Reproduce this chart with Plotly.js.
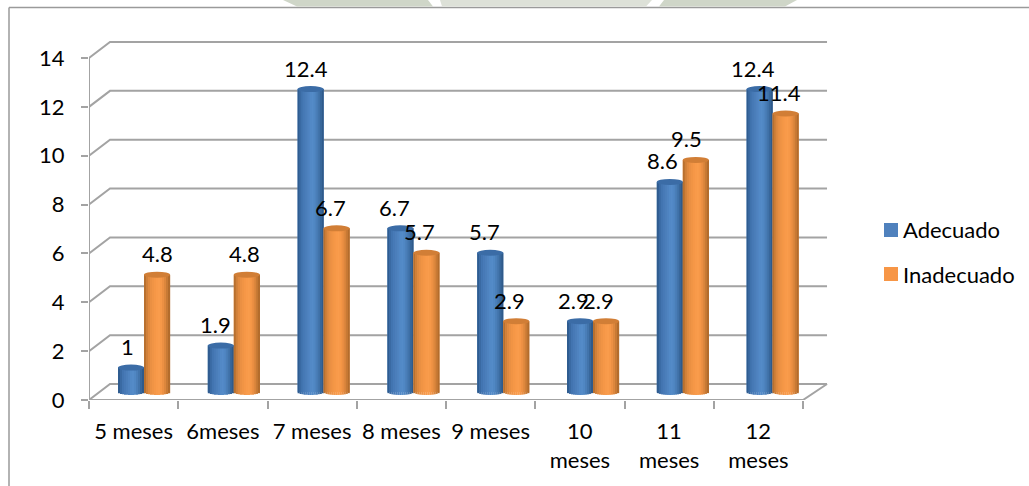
<!DOCTYPE html>
<html>
<head>
<meta charset="utf-8">
<script src="https://cdn.plot.ly/plotly-3.0.1.min.js"></script>
<style>html,body{margin:0;padding:0;background:#fff;overflow:hidden}</style>
</head>
<body>
<div id="chart" style="width:1029px;height:486px"></div>
<script>
// Values per age group
const categories = ['5 meses', '6meses', '7 meses', '8 meses', '9 meses', '10<br>meses', '11<br>meses', '12<br>meses'];
const adecuado = [1, 1.9, 12.4, 6.7, 5.7, 2.9, 8.6, 12.4];
const inadecuado = [4.8, 4.8, 6.7, 5.7, 2.9, 2.9, 9.5, 11.4];
const yTicks = [0, 2, 4, 6, 8, 10, 12, 14];

// Sideways nudges of the value labels, in pixels
const adecuadoLabelShift = [-4, -5, -5, -6, -6, -7, -7, -7];
const inadecuadoLabelShift = [0, -2, -6, -7, -7, -8, -9, -7];

const W = 1029, H = 486;
const FONT = 'Lato, Carlito, sans-serif';
const LABEL_SIZE = 22;
const px = v => v / W;
const py = v => 1 - v / H;

// Pixel scales of the chart box
const catStep = 89.25, unitPx = 24.43;
const frontLeft = 89, frontBase = 400, plotRight = 830, plotTop = 30;
const depthX = 21 / catStep, depthY = 16 / unitPx;
const xRange = [-0.5, -0.5 + (plotRight - frontLeft) / catStep];
const yRange = [0, (frontBase - plotTop) / unitPx];

// Bars stand in the middle of the box depth, on their own axes
const barLeft = 99.1, barRight = 817.5, barBase = 392, barFloorRoom = 6;
const barStep = (barRight - barLeft) / 8;
const barWidth = 26 / barStep;
const capHeight = 3 / unitPx;

// Side-to-side shading of a cylinder: dark rim, bright band right of the middle
const blueRamp = ['#2f5c90', '#3a6aa3', '#4274b0', '#4779b6', '#4b7eba', '#4f83c0', '#5289c6', '#548bc8', '#5087c3', '#4a7eb8', '#4274ab', '#38679b', '#2f5a8a'];
const orangeRamp = ['#b8702f', '#d0803a', '#e08a3f', '#ea9043', '#f09445', '#f59747', '#f89a4a', '#f99c4c', '#f69848', '#ec9043', '#dd873d', '#c87a35', '#b36c2c'];

const traces = [];
const shapes = [];

// Wall, floor and left edge of the box, on the main axes
const wallX = [], wallY = [];
yTicks.forEach(v => {
  wallX.push(-0.5, -0.5 + depthX, 7.5 + depthX + 0.034, null);
  wallY.push(v, v + depthY, v + depthY, null);
});
wallX.push(-0.5, -0.5, null, -0.5, 7.5, 7.5 + depthX + 0.034);
wallY.push(0, 14, null, 0, 0, depthY);
traces.push({
  type: 'scatter', mode: 'lines', x: wallX, y: wallY, xaxis: 'x', yaxis: 'y',
  line: {color: '#a3a3a3', width: 2}, hoverinfo: 'skip', showlegend: false
});

// Category labels sit on a second axis so they fall between the ticks
traces.push({
  type: 'scatter', mode: 'markers', x: [0], y: [0], xaxis: 'x3', yaxis: 'y',
  marker: {opacity: 0, size: 1}, hoverinfo: 'skip', showlegend: false
});

function addSeries(name, values, center, ramp) {
  const xs = values.map((_, i) => i);
  traces.push({
    type: 'bar', name, x: xs, y: values, base: 0, xaxis: 'x2', yaxis: 'y2',
    width: barWidth, offset: center - barWidth / 2,
    marker: {color: ramp[6], line: {width: 0}}, showlegend: false
  });
  const n = ramp.length;
  const w = barWidth / n;
  ramp.forEach((color, k) => {
    const t = (k + 0.5) / n * 2 - 1;
    const drop = capHeight * Math.sqrt(1 - t * t);
    traces.push({
      type: 'bar', x: xs, y: values.map(v => v + drop), base: values.map(() => -drop),
      xaxis: 'x2', yaxis: 'y2', width: w + 0.002, offset: center - barWidth / 2 + k * w,
      marker: {color, line: {width: 0}}, hoverinfo: 'skip', showlegend: false
    });
  });
}
addSeries('Adecuado', adecuado, -barWidth / 2, blueRamp);
addSeries('Inadecuado', inadecuado, barWidth / 2, orangeRamp);

// Top caps of the cylinders
function addCaps(values, center, color) {
  values.forEach((v, i) => {
    shapes.push({
      type: 'circle', xref: 'x2', yref: 'y2', layer: 'above',
      x0: i + center - barWidth / 2, x1: i + center + barWidth / 2,
      y0: v - capHeight, y1: v + capHeight,
      fillcolor: color, line: {width: 0}
    });
  });
}
addCaps(adecuado, -barWidth / 2, '#3b6ca6');
addCaps(inadecuado, barWidth / 2, '#d17e36');

// Value labels above each bar
const annotations = [];
function addLabels(values, center, shift) {
  values.forEach((v, i) => {
    annotations.push({
      xref: 'x2', yref: 'y2', x: i + center, y: v, text: String(v),
      showarrow: false, xanchor: 'center', yanchor: 'middle',
      xshift: shift[i], yshift: 21,
      font: {family: FONT, size: LABEL_SIZE, color: '#000'}
    });
  });
}
addLabels(adecuado, -barWidth / 2, adecuadoLabelShift);
addLabels(inadecuado, barWidth / 2, inadecuadoLabelShift);

// Key on the right
[['Adecuado', '#4f81bd', 230], ['Inadecuado', '#f79646', 274]].forEach(([name, color, yc]) => {
  shapes.push({
    type: 'rect', xref: 'paper', yref: 'paper', layer: 'above',
    x0: px(884), x1: px(898), y0: py(yc - 7), y1: py(yc + 7),
    fillcolor: color, line: {width: 0}
  });
  annotations.push({
    xref: 'paper', yref: 'paper', x: px(901), y: py(yc), text: name,
    showarrow: false, xanchor: 'left', yanchor: 'middle',
    font: {family: FONT, size: LABEL_SIZE, color: '#000'}
  });
});

// Outer frame of the chart, cut off by the page on the right and bottom
shapes.push(
  {type: 'line', xref: 'paper', yref: 'paper', layer: 'below', x0: px(9), x1: 1, y0: py(7.5), y1: py(7.5), line: {color: '#9a9a9a', width: 1.5}},
  {type: 'line', xref: 'paper', yref: 'paper', layer: 'below', x0: px(9), x1: px(9), y0: py(7.5), y1: 0, line: {color: '#9a9a9a', width: 1.5}}
);

// Pale letterhead seal showing above the frame
const pathOf = pts => 'M' + pts.map(([a, b]) => px(a) + ',' + py(b)).join('L') + 'Z';
[
  [[[283, 0], [428, 0], [433, 6.5], [297, 6.5]], '#cfd6c8'],
  [[[440, 0], [652, 0], [646, 6.5], [442, 6.5]], '#dde1d8'],
  [[[664, 0], [797, 0], [785, 6.5], [659, 6.5]], '#cfd6c8']
].forEach(([pts, color]) => {
  shapes.push({type: 'path', xref: 'paper', yref: 'paper', layer: 'below', path: pathOf(pts), fillcolor: color, line: {width: 0}});
});

const layout = {
  width: W, height: H,
  margin: {l: 0, r: 0, t: 0, b: 0},
  paper_bgcolor: '#fff', plot_bgcolor: 'rgba(0,0,0,0)',
  barmode: 'overlay', showlegend: false,
  shapes, annotations,
  xaxis: {
    domain: [px(frontLeft), px(plotRight)], range: xRange, anchor: 'y',
    tickmode: 'array', tickvals: [-0.5, 0.5, 1.5, 2.5, 3.5, 4.5, 5.5, 6.5, 7.5], ticktext: Array(9).fill(''),
    ticks: 'outside', ticklen: 8, tickwidth: 2, tickcolor: '#a3a3a3',
    showgrid: false, zeroline: false, showline: false, fixedrange: true
  },
  xaxis3: {
    overlaying: 'x', range: xRange, anchor: 'y', side: 'bottom',
    tickmode: 'array', tickvals: categories.map((_, i) => i),
    ticktext: categories.map(c => c.split('<br>').map(s => `<span style="font-size:${LABEL_SIZE}px">${s}</span>`).join('<br>')),
    ticks: 'outside', ticklen: 11, tickcolor: 'rgba(0,0,0,0)',
    tickfont: {family: FONT, size: 22.5, color: '#000'}, tickangle: 0,
    showgrid: false, zeroline: false, showline: false, fixedrange: true
  },
  yaxis: {
    domain: [py(frontBase), py(plotTop)], range: yRange, anchor: 'x',
    tickmode: 'array', tickvals: yTicks, ticktext: yTicks.map(String),
    ticks: 'outside', ticklen: 7, tickwidth: 2, tickcolor: '#a3a3a3',
    ticklabelstandoff: 12,
    tickfont: {family: FONT, size: LABEL_SIZE, color: '#000'},
    showgrid: false, zeroline: false, showline: false, fixedrange: true
  },
  xaxis2: {domain: [px(barLeft), px(barRight)], range: [-0.5, 7.5], anchor: 'y2', visible: false, fixedrange: true},
  yaxis2: {
    domain: [py(barBase + barFloorRoom), py(plotTop)],
    range: [-barFloorRoom / unitPx, (barBase - plotTop) / unitPx],
    anchor: 'x2', visible: false, fixedrange: true
  }
};

Plotly.newPlot('chart', traces, layout, {displayModeBar: false, staticPlot: true});
</script>
</body>
</html>
